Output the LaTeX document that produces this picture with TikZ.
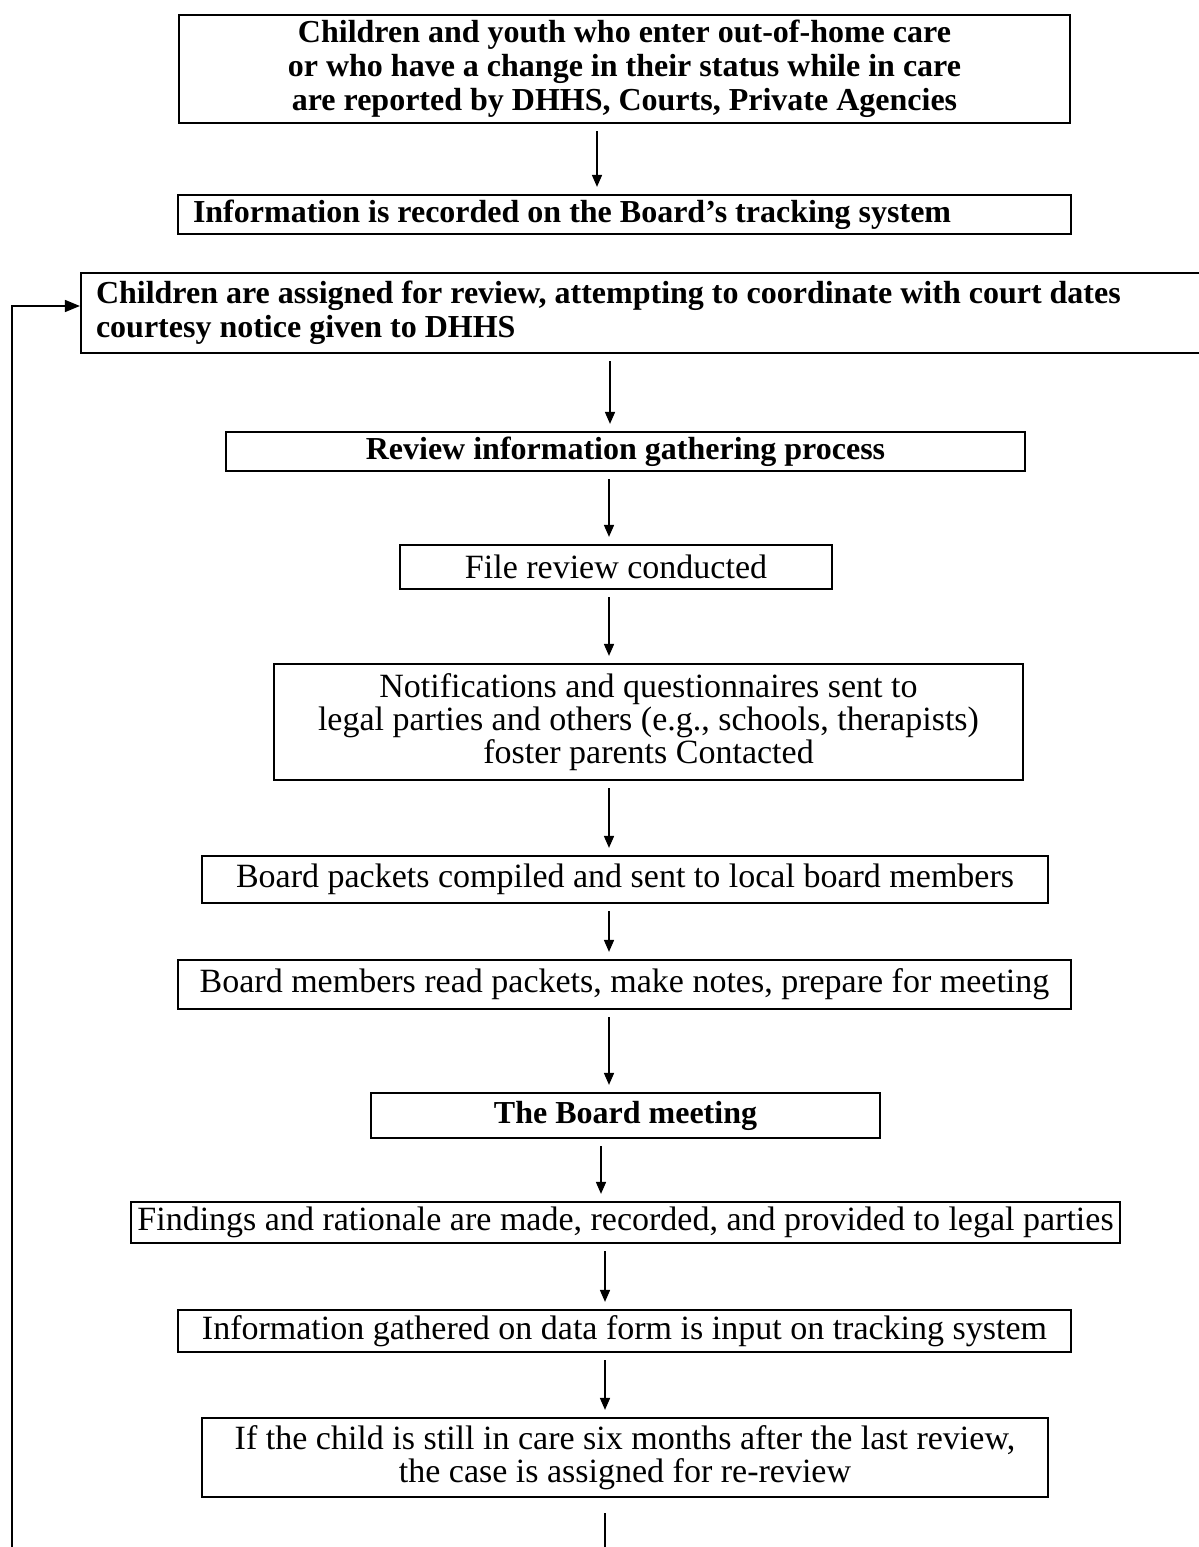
\documentclass[tikz,border=0pt]{standalone}
\usepackage{fontspec}
\setmainfont{Liberation Serif}
\usetikzlibrary{arrows.meta}
\begin{document}
\begin{tikzpicture}[x=0.5pt,y=-0.5pt,
  box/.style={draw, line width=1.1pt, inner sep=0pt, align=center, font=\fontsize{17}{16.5}\selectfont},
  bbox/.style={box, font=\fontsize{16}{17}\selectfont\bfseries},
  lbox/.style={bbox, align=flush left, inner xsep=7.5pt},
  arr/.style={line width=0.8pt, -{Triangle[length=6pt,width=5pt]}, shorten <=3.5pt, shorten >=3.5pt},
  link/.style={line width=0.8pt}]
\useasboundingbox (0,0) rectangle (1199,1547);
\node[bbox, minimum width=445.5pt, minimum height=54pt] (b1) at (624.5,69)
  {Children and youth who enter out-of-home care\\or who have a change in their status while in care\\are reported by DHHS, Courts, Private Agencies};
\node[lbox, minimum width=446.5pt, minimum height=19.5pt, text width=431.5pt] (b2) at (624.5,214.5)
  {Information is recorded on the Board’s tracking system};
\node[lbox, minimum width=574.5pt, minimum height=40pt, text width=559.5pt] (b3) at (655.5,313)
  {Children are assigned for review, attempting to coordinate with court dates\\courtesy notice given to DHHS};
\node[bbox, minimum width=399.5pt, minimum height=19.5pt] (b4) at (625.5,451.5)
  {Review information gathering process};
\node[box, minimum width=216pt, minimum height=22pt] (b5) at (616,567)
  {File review conducted};
\node[box, minimum width=374.5pt, minimum height=58pt] (b6) at (648.5,722)
  {Notifications and questionnaires sent to\\legal parties and others (e.g., schools, therapists)\\foster parents Contacted};
\node[box, minimum width=423pt, minimum height=23.5pt] (b7) at (625,879.5)
  {Board packets compiled and sent to local board members};
\node[box, minimum width=446.5pt, minimum height=24.5pt] (b8) at (624.5,984.5)
  {Board members read packets, make notes, prepare for meeting};
\node[bbox, minimum width=254.5pt, minimum height=22.5pt] (b9) at (625.5,1115.5)
  {The Board meeting};
\node[box, minimum width=494.5pt, minimum height=20.5pt] (b10) at (625.5,1222.5)
  {Findings and rationale are made, recorded, and provided to legal parties};
\node[box, minimum width=446.5pt, minimum height=21pt] (b11) at (624.5,1331)
  {Information gathered on data form is input on tracking system};
\node[box, minimum width=423pt, minimum height=39.5pt] (b12) at (625,1457.5)
  {If the child is still in care six months after the last review,\\the case is assigned for re-review};
\coordinate (x1) at (597,0);
\coordinate (x2) at (610,0);
\coordinate (x3) at (609,0);
\coordinate (x4) at (601,0);
\coordinate (x5) at (605,0);
\draw[arr] (x1 |- b1.south) -- (x1 |- b2.north);
\draw[arr] (x2 |- b3.south) -- (x2 |- b4.north);
\draw[arr] (x3 |- b4.south) -- (x3 |- b5.north);
\draw[arr] (x3 |- b5.south) -- (x3 |- b6.north);
\draw[arr] (x3 |- b6.south) -- (x3 |- b7.north);
\draw[arr] (x3 |- b7.south) -- (x3 |- b8.north);
\draw[arr] (x3 |- b8.south) -- (x3 |- b9.north);
\draw[arr] (x4 |- b9.south) -- (x4 |- b10.north);
\draw[arr] (x5 |- b10.south) -- (x5 |- b11.north);
\draw[arr] (x5 |- b11.south) -- (x5 |- b12.north);
\coordinate (bend) at (605,1547);
\draw[link, shorten <=7.5pt] (x5 |- b12.south) -- (bend);
\coordinate (lp) at (12,1547);
\coordinate (ly) at (0,306);
\draw[link, -{Triangle[length=7.5pt,width=6pt]}] (lp) |- (b3.west |- ly);
\end{tikzpicture}
\end{document}
